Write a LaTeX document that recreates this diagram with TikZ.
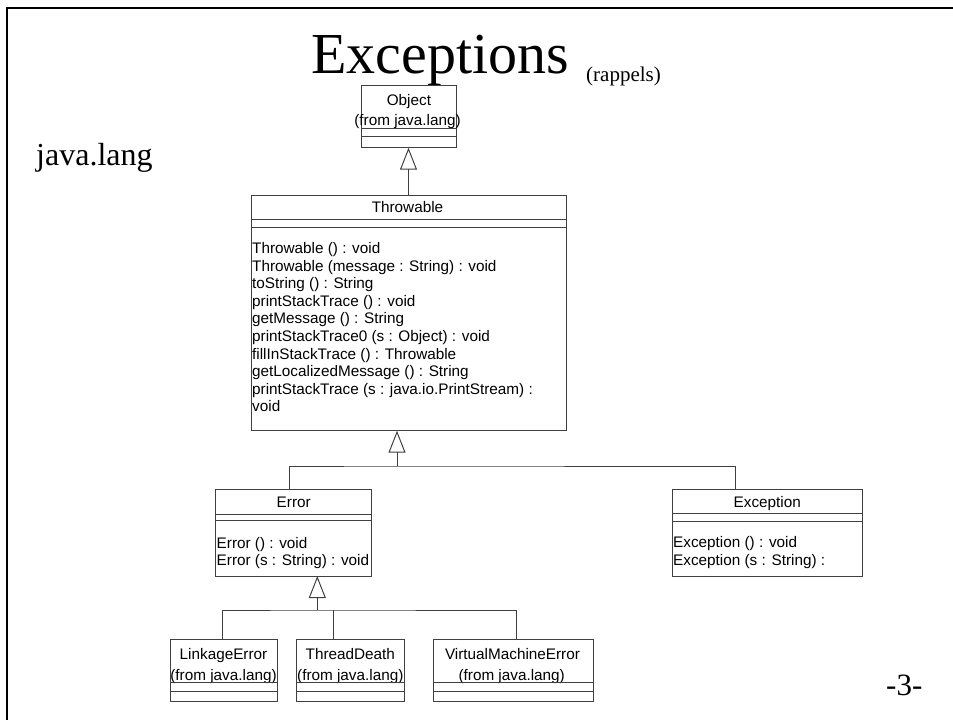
\documentclass[tikz,border=0pt]{standalone}
\usepackage{fontspec}
\setmainfont{Liberation Serif}
\newfontfamily\umlfont{Liberation Sans}
\usetikzlibrary{arrows.meta}
\newcommand\clsline[2]{\draw[ln] (#1.west |- 0,#2) -- (#1.east |- 0,#2);}
\begin{document}
\begin{tikzpicture}[x=1pt,y=-1pt,
  ln/.style={draw=black!75, line width=1pt},
  cls/.style={draw=black!75, line width=1pt, rectangle, inner sep=0pt, outer sep=0pt, anchor=north west},
  txt/.style={font=\umlfont\fontsize{15.3}{17.6}\selectfont, inner sep=0pt, anchor=base},
  mtxt/.style={txt, anchor=base west},
  gen/.style={ln, -{Triangle[open, length=22pt, width=17pt]}},
  serif/.style={inner sep=0pt, anchor=base west}
]
\useasboundingbox (0,0) rectangle (953,720);
% frame
\draw[line width=2.5pt] (7,721) -- (7,8) -- (954,8);

% titles
\node[serif, font=\fontsize{58}{60}\selectfont] (title) at (311,73) {Exceptions};
\node[serif, font=\fontsize{21}{24}\selectfont] (sub) at (586,81) {(rappels)};
\node[serif, font=\fontsize{32}{36}\selectfont] (pkg) at (36,165) {java.lang};
\node[serif, font=\fontsize{31}{34}\selectfont] (page) at (886,695) {-3-};

% Object
\node[cls, minimum width=94.3pt, minimum height=62.7pt] (object) at (361.7,85) {};
\node[txt] (objn) at (408.9,105) {Object};
\node[txt] (objf) at (407.5,125.5) {(from java.lang)};
\clsline{object}{128.4}
\clsline{object}{136.5}

% Throwable
\node[cls, minimum width=315.7pt, minimum height=235.7pt] (throwable) at (251,195) {};
\node[txt] (thn) at (407.5,212.5) {Throwable};
\clsline{throwable}{219.3}
\clsline{throwable}{227.7}
\foreach \t [count=\i] in {Throwable () : void,
  Throwable (message : String) : void,
  toString () : String,
  printStackTrace () : void,
  getMessage () : String,
  printStackTrace0 (s : Object) : void,
  fillInStackTrace () : Throwable,
  getLocalizedMessage () : String,
  printStackTrace (s : java.io.PrintStream) :,
  void}
  \node[mtxt] (tm\i) at (252,{253.5+17.6*(\i-1)}) {\t};

% Error
\node[cls, minimum width=156pt, minimum height=87pt] (error) at (215.7,489) {};
\node[txt] (ern) at (293.7,507) {Error};
\clsline{error}{514}
\clsline{error}{520.7}
\node[mtxt] (em1) at (216.5,548) {Error () : void};
\node[mtxt] (em2) at (216.5,565) {Error (s : String) : void};

% Exception
\node[cls, minimum width=190pt, minimum height=87pt] (exception) at (672.3,489) {};
\node[txt] (exn) at (767.3,507.5) {Exception};
\clsline{exception}{513.5}
\clsline{exception}{521.5}
\node[mtxt] (xm1) at (673,547) {Exception () : void};
\node[mtxt] (xm2) at (673,565) {Exception (s : String) :};

% bottom classes
\node[cls, minimum width=107.3pt, minimum height=62.4pt] (linkage) at (170,639.3) {};
\node[txt] (lkn) at (223.5,659.5) {LinkageError};
\node[txt] (lkf) at (223.5,680) {(from java.lang)};
\clsline{linkage}{682.7}
\clsline{linkage}{691}

\node[cls, minimum width=107.3pt, minimum height=62.4pt] (thread) at (296.7,639.3) {};
\node[txt] (tdn) at (350.3,659.5) {ThreadDeath};
\node[txt] (tdf) at (350.3,680) {(from java.lang)};
\clsline{thread}{682.7}
\clsline{thread}{691}

\node[cls, minimum width=160pt, minimum height=62.4pt] (vm) at (433.3,639.3) {};
\node[txt] (vmn) at (512.5,659.5) {VirtualMachineError};
\node[txt] (vmf) at (511.7,680) {(from java.lang)};
\clsline{vm}{682.7}
\clsline{vm}{691}

% connectors
\coordinate (j0) at (408.5,195);
\draw[gen] (j0) -- (object.south -| j0);

\coordinate (j1) at (397,466);
\coordinate (errc) at (289,489);
\coordinate (exc) at (735.7,489);
\draw[gen] (j1) -- (throwable.south -| j1);
\draw[ln] (errc) |- (j1) -| (exc);

\coordinate (j2) at (317.3,610);
\coordinate (lkc) at (222.7,639.3);
\coordinate (tdc) at (333.3,639.3);
\coordinate (vmc) at (516.7,639.3);
\draw[gen] (j2) -- (error.south -| j2);
\draw[ln] (lkc) |- (j2) -| (vmc);
\draw[ln] (tdc) -- (tdc |- j2);
\end{tikzpicture}
\end{document}
